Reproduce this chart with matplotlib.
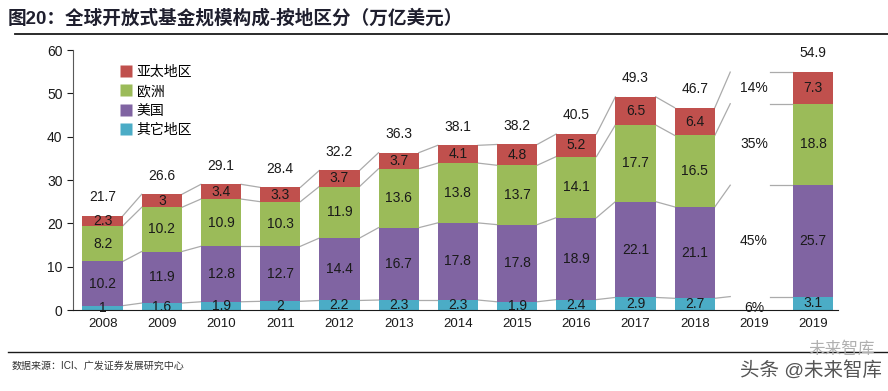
import matplotlib
matplotlib.use("Agg")
import matplotlib.pyplot as plt
from matplotlib.lines import Line2D
import numpy as np

plt.rcParams['font.family'] = ['Liberation Sans', 'Noto Sans CJK SC', 'DejaVu Sans']

# data (万亿美元)
tick_labels = ['2008', '2009', '2010', '2011', '2012', '2013', '2014',
               '2015', '2016', '2017', '2018', '2019', '2019']
bar_idx = [0, 1, 2, 3, 4, 5, 6, 7, 8, 9, 10, 12]   # slot 11 holds the share labels
other = [1, 1.6, 1.9, 2, 2.2, 2.3, 2.3, 1.9, 2.4, 2.9, 2.7, 3.1]
usa = [10.2, 11.9, 12.8, 12.7, 14.4, 16.7, 17.8, 17.8, 18.9, 22.1, 21.1, 25.7]
europe = [8.2, 10.2, 10.9, 10.3, 11.9, 13.6, 13.8, 13.7, 14.1, 17.7, 16.5, 18.8]
asia = [2.3, 3, 3.4, 3.3, 3.7, 3.7, 4.1, 4.8, 5.2, 6.5, 6.4, 7.3]
totals = [21.7, 26.6, 29.1, 28.4, 32.2, 36.3, 38.1, 38.2, 40.5, 49.3, 46.7, 54.9]
share_labels = ['6%', '45%', '35%', '14%']

series = [('其它地区', other, '#4BACC6'),
          ('美国', usa, '#8064A2'),
          ('欧洲', europe, '#9BBB59'),
          ('亚太地区', asia, '#C0504D')]

fig = plt.figure(figsize=(8.88, 3.91), dpi=100)
ax = fig.add_axes([73/888, 1-310/391, (838-73)/888, (310-50)/391])

x = np.array(bar_idx, dtype=float)
w = 0.68
bottom = np.zeros(len(x))
bounds = [bottom.copy()]
for name, vals, col in series:
    vals = np.array(vals)
    ax.bar(x, vals, w, bottom=bottom, color=col, edgecolor='none', label=name, zorder=2)
    for xi, b, v in zip(x, bottom, vals):
        ax.text(xi, b + v/2, f'{v:g}', ha='center', va='center', fontsize=10,
                color='#1a1a1a', zorder=3)
    bottom = bottom + vals
    bounds.append(bottom.copy())

for xi, t, top in zip(x, totals, bottom):
    ax.annotate(f'{t:g}', (xi, top), xytext=(0, 13.5), textcoords='offset points',
                ha='center', va='center', fontsize=10, color='#1a1a1a')

# connector lines between bars
lc = '#ABABAB'
for lev in bounds[1:]:
    for i in range(10):
        ax.plot([x[i] + w/2, x[i+1] - w/2], [lev[i], lev[i+1]], color=lc, lw=0.9, zorder=1)
    # 2018 -> 2019 zoom-out lines
    ax.plot([x[10] + w/2, 10.6], [lev[10], lev[11]], color=lc, lw=0.9, zorder=1)
    ax.plot([11.27, x[11] - w/2], [lev[11], lev[11]], color=lc, lw=0.9, zorder=1)

# share labels in empty slot
for j, s in enumerate(share_labels):
    mid = (bounds[j][11] + bounds[j+1][11]) / 2
    if j == 0:
        mid = 0.4
    ax.text(11, mid, s, ha='center', va='center', fontsize=10, color='#1a1a1a')

ax.set_xlim(-0.5, 12.42)
ax.set_ylim(0, 60)
ax.set_yticks(range(0, 61, 10))
ax.set_xticks(range(13))
ax.set_xticklabels(tick_labels)
ax.tick_params(axis='y', length=4, labelsize=10, colors='#1a1a1a')
ax.tick_params(axis='x', length=0, labelsize=9.5, pad=6, colors='#1a1a1a')
for sp in ['top', 'right']:
    ax.spines[sp].set_visible(False)
ax.spines['left'].set_color('#595959')
ax.spines['bottom'].set_color('#1a1a1a')

handles = [Line2D([], [], marker='s', linestyle='none', markersize=8,
                  markerfacecolor=col, markeredgecolor='none', label=name)
           for name, vals, col in reversed(series)]
fig.legend(handles=handles, loc='upper left', bbox_to_anchor=(113/888, 1-59/391),
           frameon=False, fontsize=10, handletextpad=0.3, labelspacing=0.4,
           borderaxespad=0, handlelength=1.0)

# header / footer
fig.text(8/888, 1-18/391, '图20：全球开放式基金规模构成-按地区分（万亿美元）',
         fontsize=13.4, fontweight='bold', color='#1f1f2e', va='center')
fig.add_artist(Line2D([15/888, 1], [1-34/391, 1-34/391], color='#1a1a1a', lw=1.3))
fig.add_artist(Line2D([8/888, 1], [1-352/391, 1-352/391], color='#1a1a1a', lw=1.0))
fig.text(12/888, 1-366/391, '数据来源：ICI、广发证券发展研究中心', fontsize=7.2,
         color='#333333', va='center')
fig.text(875/888, 1-349/391, '未来智库', fontsize=12, color='#b0b0b0', ha='right', va='center')
fig.text(882/888, 1-370/391, '头条 @未来智库', fontsize=14, color='#555555', ha='right', va='center')

fig.savefig('out.png', dpi=100)
